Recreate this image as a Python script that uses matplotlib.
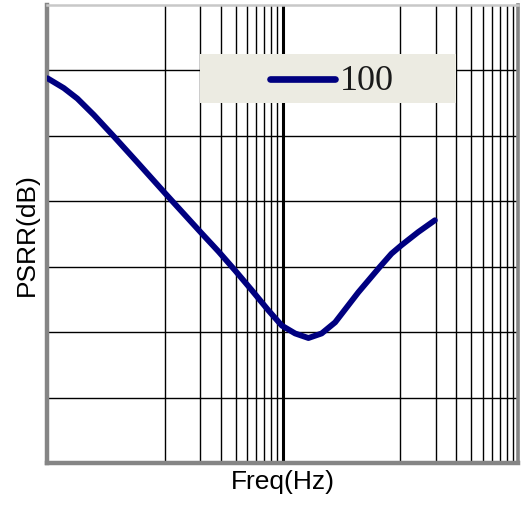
import numpy as np
import matplotlib
matplotlib.use("Agg")
import matplotlib.pyplot as plt
from matplotlib.patches import Rectangle
from matplotlib.lines import Line2D

# curve (freq in Hz, PSRR in grid units)
freq = [1.01, 1.39, 1.81, 2.50, 3.70, 5.82, 10.1, 20.1, 28.7, 39.7, 54.9,
        76.1, 98.7, 128.0, 166.0, 215.0, 280.0, 441.0, 673.0, 843.0,
        1026.0, 1422.0, 1968.0]
psrr = [5.88, 5.73, 5.57, 5.32, 4.99, 4.60, 4.12, 3.53, 3.23, 2.94, 2.64,
        2.33, 2.10, 1.98, 1.91, 1.98, 2.15, 2.61, 3.00, 3.20,
        3.33, 3.53, 3.71]
series_label = "100"

# vertical grid lines as drawn in the reference
major_x = [10, 1000]
thick_x = [100]
minor_x = [m * 10 for m in range(2, 10)] + [m * 1000 for m in range(2, 10)]
grid_y = [1, 2, 3, 4, 5, 6]

fig = plt.figure(figsize=(5.23, 5.06), dpi=100)
ax = fig.add_axes([47 / 523, 1 - 464 / 506, 471 / 523, 458 / 506])

ax.set_xscale("log")
ax.set_xlim(1, 10000)
ax.set_ylim(0, 7)

for x in major_x + minor_x:
    ax.axvline(x, color="black", lw=1.0, zorder=1)
for x in thick_x:
    ax.axvline(x, color="black", lw=2.2, zorder=1)
for y in grid_y:
    ax.axhline(y, color="black", lw=1.0, zorder=1)

curve_color = "#000080"
ax.plot(freq, psrr, color=curve_color, lw=4.2, solid_capstyle="round",
        solid_joinstyle="round", zorder=3)

ax.set_xticks([])
ax.set_yticks([])
ax.xaxis.set_minor_locator(matplotlib.ticker.NullLocator())

for side in ["left", "bottom"]:
    ax.spines[side].set_color("#858585")
    ax.spines[side].set_linewidth(3.2)
ax.spines["right"].set_color("#858585")
ax.spines["right"].set_linewidth(2.6)
ax.spines["top"].set_color("#c8c8c8")
ax.spines["top"].set_linewidth(1.8)

# legend box, drawn by hand to get the wide padded look
ax.add_patch(Rectangle((0.325, 0.786), 0.543, 0.107, transform=ax.transAxes,
                       facecolor="#ecebe2", edgecolor="none", zorder=4))
ax.add_line(Line2D([0.4735, 0.6115], [0.838, 0.838], transform=ax.transAxes,
                   color=curve_color, lw=4.8, solid_capstyle="round", zorder=5))
ax.text(0.622, 0.836, series_label, transform=ax.transAxes, ha="left",
        va="center", fontsize=26, family="Liberation Serif", color="#1a1a1a",
        zorder=5)

ax.set_xlabel("Freq(Hz)", fontsize=19, family="Liberation Sans", labelpad=4)
ax.set_ylabel("PSRR(dB)", fontsize=19, family="Liberation Sans", labelpad=6)

fig.savefig("out.png", dpi=100)
